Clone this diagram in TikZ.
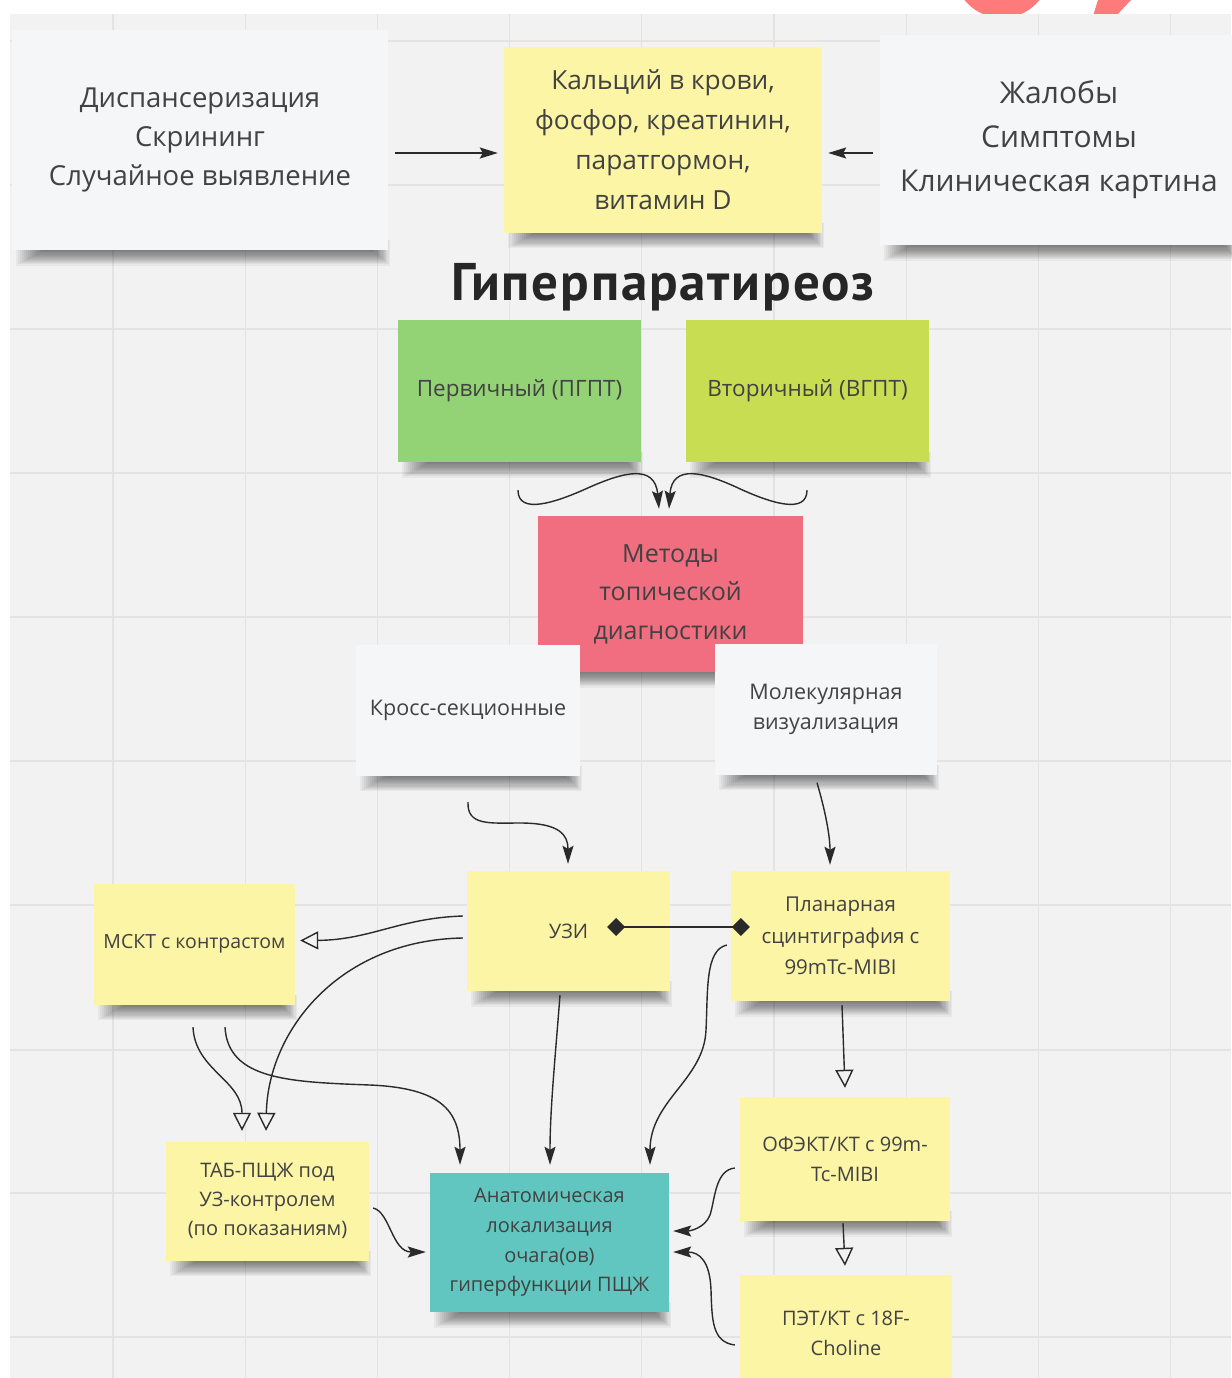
\documentclass[tikz,border=0pt]{standalone}
\usepackage{fontspec}
\setmainfont{Open Sans}
\newfontfamily\titlefont[LetterSpace=3.5]{PT Sans}
\usetikzlibrary{arrows.meta,calc}
\definecolor{bgc}{HTML}{F2F2F2}
\definecolor{gridc}{HTML}{E3E3E3}
\definecolor{txt}{HTML}{424242}
\definecolor{wn}{HTML}{F5F6F8}
\definecolor{yn}{HTML}{FCF5A6}
\definecolor{gn}{HTML}{93D275}
\definecolor{lgn}{HTML}{C8DD52}
\definecolor{rn}{HTML}{F06E7F}
\definecolor{tn}{HTML}{60C6BF}
\definecolor{ln}{HTML}{2A2A2A}
\definecolor{pinkc}{HTML}{FF7B7B}
\pgfdeclarelayer{canvas}
\pgfdeclarelayer{shade}
\pgfsetlayers{canvas,shade,main}
\newcommand\nshadow[1]{%
  \begin{pgfonlayer}{shade}
    \foreach \i in {0,1,...,13}{%
      \fill[black, opacity=0.045] ($(#1.south west)+(30-2*\i,-10)$) rectangle ($(#1.south east)+(-14+1.2*\i,1+1.1*\i)$);
    }
  \end{pgfonlayer}}
\tikzset{
  note/.style={rectangle, inner sep=0pt, align=center, text=txt},
  wnote/.style={note, fill=wn},
  ynote/.style={note, fill=yn},
  conn/.style={draw=ln, line width=1.4pt},
  fhead/.style={conn, -{Stealth[length=18pt,width=11pt,inset=3pt]}},
  ohead/.style={conn, -{Triangle[open,length=18pt,width=18pt,fill=bgc]}},
  dhead/.style={conn, {Diamond[length=18pt,width=18pt]}-{Diamond[length=18pt,width=18pt]}},
}
\begin{document}
\begin{tikzpicture}[x=1pt,y=-1pt]
\useasboundingbox (0,0) rectangle (1231,1378);
\begin{pgfonlayer}{canvas}
\clip (0,0) rectangle (1231,1378);
\fill[white] (0,0) rectangle (1231,1378);
% pink logo fragment
\fill[pinkc] (1002,-30) circle[radius=48];
\fill[pinkc] (1098,0) -- (1131,0) -- (1116,16) -- (1093,16) -- cycle;
% canvas
\fill[bgc] (10,14) rectangle (1231,1378);
\foreach \gx in {113,245.2,377.4,509.6,641.8,774,906.2,1038.4,1170.6}
  \draw[gridc, line width=1.2pt] (\gx,14) -- (\gx,1378);
\foreach \gy in {41,185,329,473,617,761,905,1050,1193,1337}
  \draw[gridc, line width=1.2pt] (10,\gy) -- (1231,\gy);
\end{pgfonlayer}

% top row
\node[wnote, minimum width=376pt, minimum height=220pt,
  font=\fontsize{27.5}{39}\selectfont] (dis) at (200,140)
  {Диспансеризация\\Скрининг\\Случайное выявление};
\node[ynote, minimum width=318pt, minimum height=185pt,
  font=\fontsize{26.3}{40}\selectfont] (lab) at (663,140)
  {Кальций в крови,\\фосфор, креатинин,\\паратгормон,\\витамин D};
\node[wnote, minimum width=358pt, minimum height=210pt,
  font=\fontsize{30}{44}\selectfont] (com) at (1059,140)
  {Жалобы\\Симптомы\\Клиническая картина};

\node[font=\titlefont\bfseries\fontsize{53}{53}\selectfont, text=black!85, inner sep=0pt, anchor=base] (title) at (663,300) {Гиперпаратиреоз};

\node[note, fill=gn, minimum width=243pt, minimum height=142pt,
  font=\fontsize{22.5}{30}\selectfont] (prim) at (519.5,391) {Первичный (ПГПТ)};
\node[note, fill=lgn, minimum width=243pt, minimum height=142pt,
  font=\fontsize{22.5}{30}\selectfont] (sec) at (807.5,391) {Вторичный (ВГПТ)};

\node[note, fill=rn, minimum width=265pt, minimum height=156pt,
  font=\fontsize{25}{38.5}\selectfont] (met) at (670.5,594)
  {Методы\\топической\\диагностики};

\node[wnote, minimum width=224pt, minimum height=131pt,
  font=\fontsize{21.5}{30}\selectfont] (cross) at (468,710) {Кросс-секционные};
\node[wnote, minimum width=222pt, minimum height=131pt,
  font=\fontsize{21.5}{30}\selectfont] (mol) at (826,709) {Молекулярная\\визуализация};

\node[ynote, minimum width=203pt, minimum height=120pt,
  font=\fontsize{20}{30}\selectfont] (uzi) at (568.5,931) {УЗИ};
\node[ynote, minimum width=219pt, minimum height=130pt,
  font=\fontsize{20.5}{31.5}\selectfont] (plan) at (840.5,936)
  {Планарная\\сцинтиграфия с\\99mTc-MIBI};
\node[ynote, minimum width=201pt, minimum height=121pt,
  font=\fontsize{19.5}{30}\selectfont] (mskt) at (194.5,944) {МСКТ с контрастом};

\node[ynote, minimum width=203pt, minimum height=119pt,
  font=\fontsize{20}{29}\selectfont] (tab) at (267.5,1201) {ТАБ-ПЩЖ под\\УЗ-контролем\\(по показаниям)};
\node[note, fill=tn, minimum width=239pt, minimum height=139pt,
  font=\fontsize{20}{29.7}\selectfont] (anat) at (549.5,1242.5)
  {Анатомическая\\локализация\\очага(ов)\\гиперфункции ПЩЖ};
\node[ynote, minimum width=210pt, minimum height=124pt,
  font=\fontsize{20}{30}\selectfont] (ofekt) at (845,1159)
  {ОФЭКТ/КТ с 99m-\\Tc-MIBI};
\node[ynote, minimum width=212pt, minimum height=117pt,
  font=\fontsize{20}{30}\selectfont] (pet) at (846,1333.5)
  {ПЭТ/КТ с 18F-\\Choline};

\foreach \n in {dis,lab,com,prim,sec,met,cross,mol,uzi,plan,mskt,tab,anat,ofekt,pet}
  {\nshadow{\n}}

% connectors
\draw[fhead] ($(dis.east)+(7,13)$) -- ($(lab.west)+(-6,13)$);
\draw[fhead] ($(com.west)+(-7,13)$) -- ($(lab.east)+(6,13)$);

\draw[fhead] ($(prim.south)+(-1.5,28)$) .. controls (518,515) and (555,503) .. (590,487)
  .. controls (622,473) and (655,463) .. ($(met.north)+(-11.5,-7)$);
\draw[fhead] ($(sec.south)+(-0.5,28)$) .. controls (807,515) and (770,503) .. (736,487)
  .. controls (705,473) and (672,463) .. ($(met.north)+(-1.5,-7)$);

\draw[fhead] ($(cross.south)+(0,26.5)$) .. controls (467,826) and (490,823) .. (520,823)
  .. controls (560,823) and (568,835) .. ($(uzi.north)+(-0.5,-7)$);
\draw[fhead] ($(mol.south)+(-9,8)$) .. controls (825,810) and (830,835) .. ($(plan.north)+(-10.5,-6)$);

\draw[dhead] ($(uzi.east)+(-63,-4)$) -- ($(plan.west)+(19,-9)$);

\draw[ohead] ($(uzi.west)+(-4,-15)$) .. controls (400,918) and (370,940) .. ($(mskt.east)+(5,-3.5)$);
\draw[ohead] ($(uzi.west)+(-4,7)$) .. controls (340,940) and (268,1030) .. ($(tab.north)+(-1.5,-10.5)$);
\draw[ohead] ($(mskt.south)+(-1.5,22.5)$) .. controls (195,1070) and (242,1080) .. ($(tab.north)+(-25.5,-10.5)$);
\draw[fhead] ($(mskt.south)+(30.5,22.5)$) .. controls (228,1080) and (290,1082) .. (370,1085)
  .. controls (440,1088) and (460,1110) .. ($(anat.north)+(-89.5,-8)$);
\draw[fhead] ($(uzi.south)+(-8.5,4)$) .. controls (555,1060) and (550,1110) .. ($(anat.north)+(0.5,-8)$);
\draw[fhead] ($(plan.west)+(-4,9)$) .. controls (705,950) and (708,990) .. (706,1030)
  .. controls (704,1080) and (650,1100) .. ($(anat.north)+(100.5,-8)$);
\draw[ohead] ($(plan.south)+(1.5,4)$) -- ($(ofekt.north)+(0,-9)$);
\draw[ohead] ($(ofekt.south)+(-2,2)$) -- ($(pet.north)+(-1,-9)$);
\draw[fhead] ($(ofekt.west)+(-5,9)$) .. controls (715,1170) and (715,1200) .. (710,1215)
  .. controls (705,1228) and (690,1231) .. ($(anat.east)+(4,-11.5)$);
\draw[fhead] ($(pet.west)+(-5,11.5)$) .. controls (712,1342) and (712,1320) .. (711,1290)
  .. controls (710,1262) and (700,1252) .. ($(anat.east)+(4,9.5)$);
\draw[fhead] ($(tab.east)+(4,7)$) .. controls (390,1212) and (392,1252) .. ($(anat.west)+(-4,9.5)$);
\end{tikzpicture}
\end{document}
